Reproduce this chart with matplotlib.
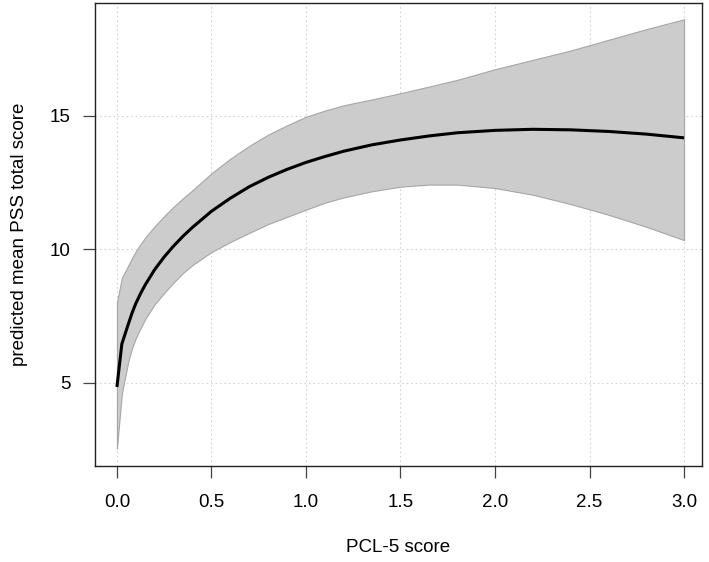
import matplotlib
matplotlib.use('Agg')
import matplotlib.pyplot as plt
import numpy as np

plt.rcParams['font.family'] = ['Liberation Sans', 'DejaVu Sans']

# predicted PSS total score vs PCL-5 score
pcl = [0.0, 0.026, 0.06, 0.08, 0.1, 0.125, 0.15, 0.2, 0.25, 0.3, 0.35, 0.4,
       0.5, 0.6, 0.7, 0.8, 0.9, 1.0, 1.1, 1.2, 1.35, 1.5, 1.65, 1.8,
       2.0, 2.2, 2.4, 2.6, 2.8, 3.0]
pss_mean = [4.85, 6.46, 7.2, 7.62, 7.98, 8.35, 8.68, 9.25, 9.72, 10.13, 10.5, 10.83,
            11.43, 11.92, 12.35, 12.7, 13.0, 13.26, 13.48, 13.68, 13.92, 14.1, 14.25, 14.37,
            14.46, 14.5, 14.48, 14.42, 14.32, 14.18]
pss_upper = [8.0, 8.94, 9.4, 9.68, 9.93, 10.2, 10.45, 10.87, 11.25, 11.6, 11.92, 12.22,
             12.85, 13.4, 13.88, 14.3, 14.65, 14.97, 15.2, 15.4, 15.62, 15.85, 16.1, 16.35,
             16.75, 17.1, 17.45, 17.85, 18.25, 18.62]
pss_lower = [2.55, 4.6, 5.8, 6.3, 6.68, 7.05, 7.4, 7.95, 8.37, 8.76, 9.12, 9.42,
             9.9, 10.28, 10.62, 10.95, 11.22, 11.49, 11.75, 11.95, 12.18, 12.35, 12.43, 12.43,
             12.3, 12.05, 11.7, 11.3, 10.85, 10.35]

xticks = [0.0, 0.5, 1.0, 1.5, 2.0, 2.5, 3.0]
yticks = [5, 10, 15]

fsize = 13.5

fig = plt.figure(figsize=(7.09, 5.62), dpi=100)
ax = fig.add_axes([95/709, 1 - 466/562, 607/709, 463/562])

ax.fill_between(pcl, pss_lower, pss_upper, facecolor='#cccccc', edgecolor='#a6a6a6',
                linewidth=0.8, zorder=2)
ax.plot(pcl, pss_mean, color='black', linewidth=2.2, solid_capstyle='butt',
        solid_joinstyle='round', zorder=3)

ax.set_xlim(-0.116, 3.095)
ax.set_ylim(1.89, 19.23)
ax.set_xticks(xticks)
ax.set_xticklabels(['%.1f' % t for t in xticks])
ax.set_yticks(yticks)

# R style dotted grid at the ticks
ax.grid(True, linestyle=(0, (1.5, 2.5)), color='#d3d3d3', linewidth=0.8, zorder=1)
ax.set_axisbelow(True)

for s in ax.spines.values():
    s.set_linewidth(1.0)
    s.set_color('#222222')

ax.tick_params(axis='both', direction='out', length=8.5, width=0.9, color='#444444',
               labelsize=fsize)
ax.tick_params(axis='x', pad=12)
ax.tick_params(axis='y', pad=9)

ax.set_xlabel('PCL-5 score', fontsize=fsize, labelpad=20)
ax.set_ylabel('predicted mean PSS total score', fontsize=fsize, labelpad=16)

fig.savefig('out.png', dpi=100)
